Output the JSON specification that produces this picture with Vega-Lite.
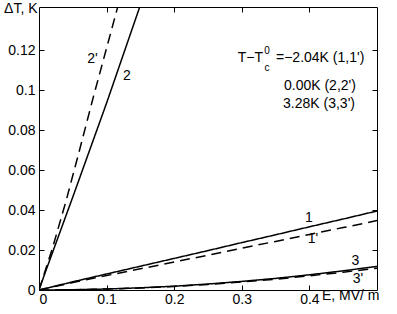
{
  "$schema": "https://vega.github.io/schema/vega-lite/v6.json",
  "width": 338,
  "height": 283,
  "autosize": {"type": "none"},
  "padding": {"left": 39, "top": 7, "right": 20, "bottom": 24},
  "background": "white",
  "config": {
    "view": {"stroke": "black", "strokeWidth": 1},
    "font": "Liberation Sans",
    "axis": {"domain": false, "grid": false, "tickColor": "black", "tickSize": -5, "tickWidth": 1, "labelColor": "black", "labelFont": "Liberation Sans", "labelFontSize": 14, "title": null}
  },
  "datasets": {
    "lines": [
      {"series": "1", "dash": "solid", "E": 0, "dT": 0},
      {"series": "1", "dash": "solid", "E": 0.05, "dT": 0.0041},
      {"series": "1", "dash": "solid", "E": 0.1, "dT": 0.008},
      {"series": "1", "dash": "solid", "E": 0.15, "dT": 0.0119},
      {"series": "1", "dash": "solid", "E": 0.2, "dT": 0.0158},
      {"series": "1", "dash": "solid", "E": 0.25, "dT": 0.0197},
      {"series": "1", "dash": "solid", "E": 0.3, "dT": 0.0237},
      {"series": "1", "dash": "solid", "E": 0.35, "dT": 0.0276},
      {"series": "1", "dash": "solid", "E": 0.4, "dT": 0.0316},
      {"series": "1", "dash": "solid", "E": 0.45, "dT": 0.0355},
      {"series": "1", "dash": "solid", "E": 0.5, "dT": 0.0395},
      {"series": "1p", "dash": "dashed", "E": 0, "dT": 0},
      {"series": "1p", "dash": "dashed", "E": 0.05, "dT": 0.0037},
      {"series": "1p", "dash": "dashed", "E": 0.1, "dT": 0.0072},
      {"series": "1p", "dash": "dashed", "E": 0.15, "dT": 0.0106},
      {"series": "1p", "dash": "dashed", "E": 0.2, "dT": 0.014},
      {"series": "1p", "dash": "dashed", "E": 0.25, "dT": 0.0174},
      {"series": "1p", "dash": "dashed", "E": 0.3, "dT": 0.0209},
      {"series": "1p", "dash": "dashed", "E": 0.35, "dT": 0.0243},
      {"series": "1p", "dash": "dashed", "E": 0.4, "dT": 0.0278},
      {"series": "1p", "dash": "dashed", "E": 0.45, "dT": 0.0312},
      {"series": "1p", "dash": "dashed", "E": 0.5, "dT": 0.0347},
      {"series": "2", "dash": "solid", "E": 0, "dT": 0},
      {"series": "2", "dash": "solid", "E": 0.01, "dT": 0.0095},
      {"series": "2", "dash": "solid", "E": 0.05, "dT": 0.0465},
      {"series": "2", "dash": "solid", "E": 0.1, "dT": 0.0935},
      {"series": "2", "dash": "solid", "E": 0.15, "dT": 0.1425},
      {"series": "2p", "dash": "dashed", "E": 0, "dT": 0},
      {"series": "2p", "dash": "dashed", "E": 0.01, "dT": 0.0105},
      {"series": "2p", "dash": "dashed", "E": 0.02, "dT": 0.021},
      {"series": "2p", "dash": "dashed", "E": 0.04, "dT": 0.0445},
      {"series": "2p", "dash": "dashed", "E": 0.06, "dT": 0.07},
      {"series": "2p", "dash": "dashed", "E": 0.08, "dT": 0.096},
      {"series": "2p", "dash": "dashed", "E": 0.1, "dT": 0.121},
      {"series": "2p", "dash": "dashed", "E": 0.12, "dT": 0.146},
      {"series": "3", "dash": "solid", "E": 0, "dT": 0},
      {"series": "3", "dash": "solid", "E": 0.05, "dT": 0.0001},
      {"series": "3", "dash": "solid", "E": 0.1, "dT": 0.0005},
      {"series": "3", "dash": "solid", "E": 0.15, "dT": 0.0011},
      {"series": "3", "dash": "solid", "E": 0.2, "dT": 0.0019},
      {"series": "3", "dash": "solid", "E": 0.25, "dT": 0.003},
      {"series": "3", "dash": "solid", "E": 0.3, "dT": 0.0043},
      {"series": "3", "dash": "solid", "E": 0.35, "dT": 0.0058},
      {"series": "3", "dash": "solid", "E": 0.4, "dT": 0.0076},
      {"series": "3", "dash": "solid", "E": 0.45, "dT": 0.0096},
      {"series": "3", "dash": "solid", "E": 0.5, "dT": 0.0118},
      {"series": "3p", "dash": "dashed", "E": 0, "dT": 0},
      {"series": "3p", "dash": "dashed", "E": 0.05, "dT": 0.0001},
      {"series": "3p", "dash": "dashed", "E": 0.1, "dT": 0.0005},
      {"series": "3p", "dash": "dashed", "E": 0.15, "dT": 0.001},
      {"series": "3p", "dash": "dashed", "E": 0.2, "dT": 0.0018},
      {"series": "3p", "dash": "dashed", "E": 0.25, "dT": 0.0028},
      {"series": "3p", "dash": "dashed", "E": 0.3, "dT": 0.004},
      {"series": "3p", "dash": "dashed", "E": 0.35, "dT": 0.0054},
      {"series": "3p", "dash": "dashed", "E": 0.4, "dT": 0.0071},
      {"series": "3p", "dash": "dashed", "E": 0.45, "dT": 0.0089},
      {"series": "3p", "dash": "dashed", "E": 0.5, "dT": 0.0109}
    ],
    "labels": [
      {"kind": "center", "text": "2'", "E": 0.0791, "dT": 0.1155},
      {"kind": "center", "text": "2", "E": 0.130, "dT": 0.1068},
      {"kind": "center", "text": "1", "E": 0.3994, "dT": 0.036},
      {"kind": "center", "text": "1'", "E": 0.4053, "dT": 0.0255},
      {"kind": "center", "text": "3", "E": 0.468, "dT": 0.0145},
      {"kind": "center", "text": "3'", "E": 0.472, "dT": 0.0055},
      {"kind": "left", "text": "=−2.04K (1,1')", "E": 0.3506, "dT": 0.116},
      {"kind": "left", "text": "0.00K (2,2')", "E": 0.3624, "dT": 0.102},
      {"kind": "left", "text": "3.28K (3,3')", "E": 0.361, "dT": 0.093},
      {"kind": "left", "text": "E, MV/ m", "E": 0.4186, "dT": -0.003},
      {"kind": "right", "text": "T−T", "E": 0.3314, "dT": 0.116},
      {"kind": "right", "text": "ΔT, K", "E": -0.0022, "dT": 0.1405},
      {"kind": "small", "text": "c", "E": 0.3373, "dT": 0.111},
      {"kind": "small", "text": "0", "E": 0.3373, "dT": 0.1195}
    ]
  },
  "resolve": {"scale": {"x": "independent", "y": "independent"}, "axis": {"x": "independent", "y": "independent"}},
  "layer": [
    {
      "layer": [
        {
          "data": {"name": "lines"},
          "mark": {"type": "line", "clip": true, "strokeWidth": 1.5, "color": "black"},
          "encoding": {
            "x": {"field": "E", "type": "quantitative", "scale": {"domain": [0, 0.5], "nice": false, "zero": false}, "axis": {"orient": "bottom", "values": [0, 0.1, 0.2, 0.3, 0.4], "format": ".1~f", "labelPadding": 7}},
            "y": {"field": "dT", "type": "quantitative", "scale": {"domain": [0, 0.1415], "nice": false, "zero": false}, "axis": {"orient": "left", "values": [0, 0.02, 0.04, 0.06, 0.08, 0.1, 0.12], "format": ".2~f", "labelPadding": 9}},
            "detail": {"field": "series"},
            "strokeDash": {"field": "dash", "type": "nominal", "scale": {"domain": ["solid", "dashed"], "range": [[1, 0], [10, 6]]}, "legend": null}
          }
        },
        {
          "data": {"name": "labels"},
          "transform": [{"filter": "datum.kind == 'center'"}],
          "mark": {"type": "text", "align": "center", "baseline": "middle", "fontSize": 14, "color": "black"},
          "encoding": {
            "x": {"field": "E", "type": "quantitative"},
            "y": {"field": "dT", "type": "quantitative"},
            "text": {"field": "text"}
          }
        },
        {
          "data": {"name": "labels"},
          "transform": [{"filter": "datum.kind == 'left'"}],
          "mark": {"type": "text", "align": "left", "baseline": "middle", "fontSize": 14, "color": "black"},
          "encoding": {
            "x": {"field": "E", "type": "quantitative"},
            "y": {"field": "dT", "type": "quantitative"},
            "text": {"field": "text"}
          }
        },
        {
          "data": {"name": "labels"},
          "transform": [{"filter": "datum.kind == 'right'"}],
          "mark": {"type": "text", "align": "right", "baseline": "middle", "fontSize": 14, "color": "black"},
          "encoding": {
            "x": {"field": "E", "type": "quantitative"},
            "y": {"field": "dT", "type": "quantitative"},
            "text": {"field": "text"}
          }
        },
        {
          "data": {"name": "labels"},
          "transform": [{"filter": "datum.kind == 'small'"}],
          "mark": {"type": "text", "align": "center", "baseline": "middle", "fontSize": 10, "color": "black"},
          "encoding": {
            "x": {"field": "E", "type": "quantitative"},
            "y": {"field": "dT", "type": "quantitative"},
            "text": {"field": "text"}
          }
        }
      ]
    },
    {
      "data": {"name": "lines"},
      "mark": {"type": "point", "opacity": 0},
      "encoding": {
        "x": {"field": "E", "type": "quantitative", "scale": {"domain": [0, 0.5], "nice": false, "zero": false}, "axis": {"orient": "top", "labels": false, "values": [0.1, 0.2, 0.3, 0.4]}},
        "y": {"field": "dT", "type": "quantitative", "scale": {"domain": [0, 0.1415], "nice": false, "zero": false}, "axis": {"orient": "right", "labels": false, "values": [0.02, 0.04, 0.06, 0.08, 0.1, 0.12]}}
      }
    }
  ]
}
